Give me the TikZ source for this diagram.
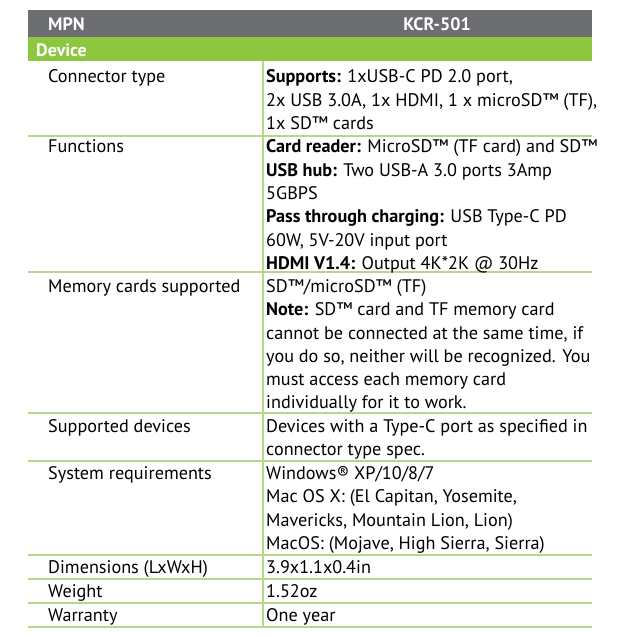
\documentclass[tikz,border=0pt]{standalone}
\usepackage{fontspec}
\setmainfont{PT Sans}
\definecolor{hdrgray}{HTML}{6D6E71}
\definecolor{hdrgreen}{HTML}{8DC63F}
\definecolor{rule}{HTML}{B5D98A}
\begin{document}
\begin{tikzpicture}[x=1pt,y=-1pt,
  txt/.style={anchor=base west,inner sep=0pt,font=\fontsize{18.2}{20}\selectfont},
  hdr/.style={anchor=base west,inner sep=0pt,text=white,font=\fontsize{18}{20}\selectfont\bfseries},
  rl/.style={draw=rule,line width=1.5pt}]
\useasboundingbox (0,0) rectangle (618,637);
\fill[hdrgray] (28,10) rectangle (592,37);
\fill[hdrgreen] (28,37) rectangle (592,61);
\node[hdr] (mpn) at (48,30) {MPN};
\node[hdr,anchor=base] (kcr) at (437,30) {KCR-501};
\node[hdr] (dev) at (36,56) {Device};
\draw[rl] (263,61) -- (263,627);
\foreach \y in {136,272,413,461,555,579,603,627} \draw[rl] (28,\y) -- (592,\y);
% left column
\node[txt] (l1) at (48,82) {Connector type};
\node[txt] (l2) at (48,152) {Functions};
\node[txt] (l3) at (48,292) {Memory cards supported};
\node[txt] (l4) at (48,432) {Supported devices};
\node[txt] (l5) at (48,479) {System requirements};
\node[txt] (l6) at (48,573) {Dimensions (LxWxH)};
\node[txt] (l7) at (48,597) {Weight};
\node[txt] (l8) at (48,621) {Warranty};
% right column
\node[txt] (r1a) at (266,82) {\textbf{Supports:} 1xUSB-C PD 2.0 port,};
\node[txt] (r1b) at (266,106) {2x USB 3.0A, 1x HDMI, 1 x microSD™ (TF),};
\node[txt] (r1c) at (266,129) {1x SD™ cards};
\node[txt] (r2a) at (266,152) {\textbf{Card reader:} MicroSD™ (TF card) and SD™};
\node[txt] (r2b) at (266,176) {\textbf{USB hub:} Two USB-A 3.0 ports 3Amp};
\node[txt] (r2c) at (266,199) {5GBPS};
\node[txt] (r2d) at (266,222) {\textbf{Pass through charging:} USB Type-C PD};
\node[txt] (r2e) at (266,246) {60W, 5V-20V input port};
\node[txt] (r2f) at (266,269) {\textbf{HDMI V1.4:} Output 4K*2K @ 30Hz};
\node[txt] (r3a) at (266,292) {SD™/microSD™ (TF)};
\node[txt] (r3b) at (266,315) {\textbf{Note:} SD™ card and TF memory card};
\node[txt] (r3c) at (266,339) {cannot be connected at the same time, if};
\node[txt] (r3d) at (266,362) {you do so, neither will be recognized. You};
\node[txt] (r3e) at (266,385) {must access each memory card};
\node[txt] (r3f) at (266,408) {individually for it to work.};
\node[txt] (r4a) at (266,432) {Devices with a Type-C port as specified in};
\node[txt] (r4b) at (266,455) {connector type spec.};
\node[txt] (r5a) at (266,479) {Windows® XP/10/8/7};
\node[txt] (r5b) at (266,502) {Mac OS X: (El Capitan, Yosemite,};
\node[txt] (r5c) at (266,526) {Mavericks, Mountain Lion, Lion)};
\node[txt] (r5d) at (266,549) {MacOS: (Mojave, High Sierra, Sierra)};
\node[txt] (r6) at (266,573) {3.9x1.1x0.4in};
\node[txt] (r7) at (266,597) {1.52oz};
\node[txt] (r8) at (266,621) {One year};
\end{tikzpicture}
\end{document}
